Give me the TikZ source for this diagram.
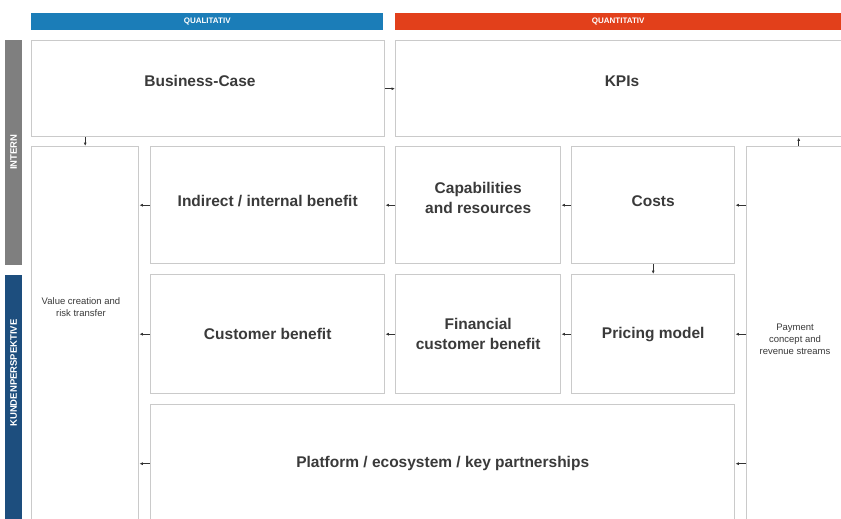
\documentclass[tikz,border=0pt]{standalone}
\usepackage{fontspec}
\setmainfont{Liberation Sans}
\usetikzlibrary{arrows.meta}

\definecolor{qualblue}{HTML}{1B7DB8}
\definecolor{quantred}{HTML}{E2401B}
\definecolor{interngray}{HTML}{7F7F7F}
\definecolor{kundenblue}{HTML}{1D4E7E}
\definecolor{framegray}{HTML}{CACACA}
\definecolor{labelgray}{HTML}{3A3A3A}

\tikzset{
  field/.style={draw=framegray, line width=1.4pt, fill=white, anchor=north west, inner sep=0pt, text=labelgray, align=center, font=\bfseries\fontsize{15.5}{20}\selectfont},
  fieldlabel/.style={text=labelgray, align=center, font=\bfseries\fontsize{15.5}{20}\selectfont},
  smalllabel/.style={text=labelgray, align=center, font=\fontsize{9.5}{12}\selectfont},
  headbar/.style={anchor=north west, inner sep=0pt, text=white, font=\bfseries\fontsize{8}{9}\selectfont},
  sidelabel/.style={rotate=90, text=white, font=\bfseries\fontsize{9.5}{10}\selectfont},
  link/.style={draw=black!80, line width=0.8pt, -{Latex[length=3.5pt,width=3pt]}},
}

\begin{document}
\begin{tikzpicture}[x=1pt,y=-1pt]
\useasboundingbox (0,0) rectangle (841,519);
\clip (0,0) rectangle (841,519);

% column headers
\node[headbar, fill=qualblue, minimum width=352pt, minimum height=17pt] (qual) at (31,13) {QUALITATIV};
\node[headbar, fill=quantred, minimum width=446pt, minimum height=17pt] (quant) at (395,13) {QUANTITATIV};

% side bars
\fill[interngray] (5,40) rectangle (22,265);
\fill[kundenblue] (5,275) rectangle (22,530);
\node[sidelabel] (intern) at (13.5,152) {INTERN};
\node[sidelabel] (kunden) at (13.5,373) {KUNDENPERSPEKTIVE};

% fields
\node[field, minimum width=353pt, minimum height=96pt] (bc) at (31,40) {};
\node[field, minimum width=456pt, minimum height=96pt] (kpi) at (395,40) {};
\node[fieldlabel] (bclabel) at (200,81) {Business-Case};
\node[fieldlabel] (kpilabel) at (622,81) {KPIs};

\node[field, minimum width=107pt, minimum height=385pt] (vc) at (31,146) {};
\node[field, minimum width=104pt, minimum height=385pt] (pay) at (746,146) {};
\node[smalllabel] (vclabel) at (81,307) {Value creation and\\risk transfer};
\node[smalllabel] (paylabel) at (795,339) {Payment\\concept and\\revenue streams};

% row 1 (labels sit a bit above the middle)
\node[field, minimum width=234pt, minimum height=117pt] (ind) at (150,146) {};
\node[field, minimum width=165pt, minimum height=117pt] (cap) at (395,146) {};
\node[field, minimum width=163pt, minimum height=117pt] (cost) at (571,146) {};
\node[fieldlabel] (indlabel) at ([yshift=4pt]ind.center) {Indirect / internal benefit};
\node[fieldlabel] (caplabel) at ([yshift=7pt]cap.center) {Capabilities\\and resources};
\node[fieldlabel] (costlabel) at ([yshift=4pt]cost.center) {Costs};

% row 2
\node[field, minimum width=234pt, minimum height=119pt] (cust) at (150,274) {Customer benefit};
\node[field, minimum width=165pt, minimum height=119pt] (fin) at (395,274) {Financial\\customer benefit};
\node[field, minimum width=163pt, minimum height=119pt] (price) at (571,274) {Pricing model};

\node[field, minimum width=584pt, minimum height=118pt] (plat) at (150,404) {Platform / ecosystem / key partnerships};

% links
\draw[link] (bc.east) -- (kpi.west);
\draw[link] (bc.south -| vc.north) -- (vc.north);
\draw[link] (pay.north) -- (pay.north |- kpi.south);

\draw[link] (cap.west) -- (ind.east);
\draw[link] (cost.west) -- (cap.east);
\draw[link] (pay.west |- cost.east) -- (cost.east);
\draw[link] (cost.south) -- (price.north);
\draw[link] (ind.west) -- (ind.west -| vc.east);

\draw[link] (fin.west) -- (cust.east);
\draw[link] (price.west) -- (fin.east);
\draw[link] (pay.west |- price.east) -- (price.east);
\draw[link] (cust.west) -- (cust.west -| vc.east);

\draw[link] (pay.west |- plat.east) -- (plat.east);
\draw[link] (plat.west) -- (plat.west -| vc.east);

\end{tikzpicture}
\end{document}
